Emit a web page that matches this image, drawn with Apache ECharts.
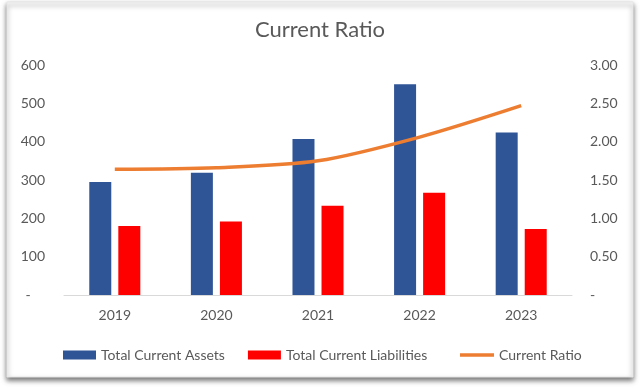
<!DOCTYPE html>
<html>
<head>
<meta charset="utf-8">
<style>html,body{margin:0;padding:0;background:#fff}#c{width:640px;height:390px}</style>
<script src="https://cdn.jsdelivr.net/npm/echarts@6/dist/echarts.min.js"></script>
</head>
<body>
<div id="c"></div>
<script>
const categories = ['2019', '2020', '2021', '2022', '2023'];
const totalCurrentAssets = [295, 319, 407, 550, 424];
const totalCurrentLiabilities = [180, 192, 233, 267, 172];
const currentRatio = [1.64, 1.66, 1.75, 2.06, 2.47];
const leftTicks = { min: 0, max: 600, interval: 100 };
const rightTicks = { min: 0, max: 3, interval: 0.5 };

const FONT = 'Lato';
const chart = echarts.init(document.getElementById('c'), null, { renderer: 'canvas' });
chart.setOption({
  backgroundColor: '#ffffff',
  animation: false,
  textStyle: { fontFamily: FONT },
  graphic: [{
    type: 'rect', z: -10, silent: true,
    shape: { x: 7, y: 2, width: 626, height: 375 },
    style: { fill: '#ffffff', stroke: '#e6e6e6', lineWidth: 1, shadowBlur: 5, shadowOffsetY: 3, shadowOffsetX: 0, shadowColor: 'rgba(0,0,0,0.55)' }
  }],
  title: {
    text: 'Current Ratio', left: 'center', top: 14,
    textStyle: { fontFamily: FONT, fontSize: 22, fontWeight: 'normal', color: '#595959' }
  },
  legend: [{
    left: 63, top: 348, padding: 0, itemWidth: 33, itemHeight: 9, itemGap: 23,
    textStyle: { fontFamily: FONT, fontSize: 14, color: '#595959' },
    data: [
      { name: 'Total Current Assets', icon: 'rect' },
      { name: 'Total Current Liabilities', icon: 'rect' }
    ]
  }, {
    left: 460, top: 348, padding: 0, itemWidth: 34, itemHeight: 3.5,
    textStyle: { fontFamily: FONT, fontSize: 14, color: '#595959' },
    data: [{ name: 'Current Ratio', icon: 'rect' }]
  }],
  grid: { left: 64, right: 68, top: 65, bottom: 95 },
  xAxis: {
    type: 'category', data: categories,
    axisLine: { lineStyle: { color: '#d9d9d9', width: 1 } },
    axisTick: { show: false },
    axisLabel: { color: '#595959', fontSize: 14, margin: 13, fontFamily: FONT }
  },
  yAxis: [{
    type: 'value', min: leftTicks.min, max: leftTicks.max, interval: leftTicks.interval,
    splitLine: { show: false }, axisLine: { show: false }, axisTick: { show: false },
    axisLabel: { color: '#595959', fontSize: 14, margin: 19, fontFamily: FONT,
      formatter: v => v === 0 ? '-    ' : String(v) }
  }, {
    type: 'value', min: rightTicks.min, max: rightTicks.max, interval: rightTicks.interval,
    splitLine: { show: false }, axisLine: { show: false }, axisTick: { show: false },
    axisLabel: { color: '#595959', fontSize: 14, margin: 18, fontFamily: FONT,
      formatter: v => v === 0 ? '-' : v.toFixed(2) }
  }],
  series: [{
    name: 'Total Current Assets', type: 'bar', data: totalCurrentAssets,
    barWidth: 22, barGap: '32%', itemStyle: { color: '#2F5597' }
  }, {
    name: 'Total Current Liabilities', type: 'bar', data: totalCurrentLiabilities,
    barWidth: 22, barGap: '32%', itemStyle: { color: '#FF0000' }
  }, {
    name: 'Current Ratio', type: 'line', yAxisIndex: 1, data: currentRatio,
    smooth: 0.3, symbol: 'none', lineStyle: { color: '#ED7D31', width: 3.5 },
    itemStyle: { color: '#ED7D31' }
  }]
});
</script>
</body>
</html>
